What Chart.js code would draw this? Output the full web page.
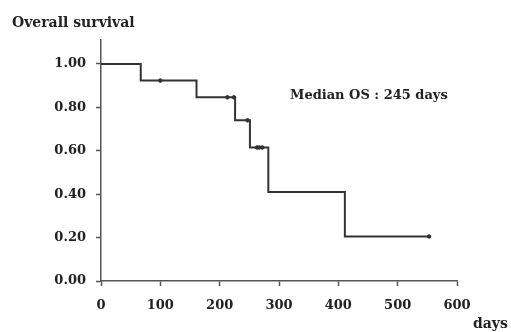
<!DOCTYPE html>
<html>
<head>
<meta charset="utf-8">
<script src="https://cdn.jsdelivr.net/npm/chart.js@4"></script>
<style>
html,body{margin:0;padding:0;background:#fff;}
#wrap{width:511px;height:332px;position:relative;}
</style>
</head>
<body>
<div id="wrap"><canvas id="c" width="511" height="332"></canvas></div>
<script>
// Kaplan-Meier step points (days, survival)
const stepDays = [0, 67, 161, 226, 251, 282, 411, 553];
const stepSurv = [1.00, 0.923, 0.846, 0.740, 0.615, 0.410, 0.205, 0.205];
// Censored observations
const censorDays = [100, 213, 224, 247, 263, 267, 272, 553];
const censorSurv = [0.923, 0.846, 0.846, 0.740, 0.615, 0.615, 0.615, 0.205];
// Tick labels
const yTickValues = [0, 0.2, 0.4, 0.6, 0.8, 1.0];
const yTickLabels = ['0.00', '0.20', '0.40', '0.60', '0.80', '1.00'];
const xTickValues = [0, 100, 200, 300, 400, 500, 600];
const yTitle = 'Overall survival';
const xTitle = 'days';
const annotation = 'Median OS : 245 days';

const FONT = '"DejaVu Serif", "Liberation Serif", serif';
const AXIS = '#555555';
const INK = '#333333';

const textPlugin = {
  id: 'texts',
  afterDraw(chart) {
    const ctx = chart.ctx;
    ctx.save();
    ctx.fillStyle = '#222';
    ctx.textBaseline = 'alphabetic';
    ctx.textAlign = 'left';
    ctx.font = 'bold 14px ' + FONT;
    ctx.fillText(yTitle, 12, 27);
    ctx.fillText(xTitle, 473, 328);
    ctx.font = 'bold 13px ' + FONT;
    ctx.fillText(annotation, 290, 99);
    ctx.restore();
  }
};

new Chart(document.getElementById('c'), {
  type: 'scatter',
  data: {
    datasets: [
      {
        data: stepDays.map((d, i) => ({x: d, y: stepSurv[i]})),
        showLine: true,
        stepped: 'before',
        borderColor: INK,
        borderWidth: 2,
        pointRadius: 0,
        fill: false
      },
      {
        data: censorDays.map((d, i) => ({x: d, y: censorSurv[i]})),
        showLine: false,
        pointStyle: 'circle',
        pointRadius: 1.8,
        backgroundColor: INK,
        borderColor: INK,
        borderWidth: 1
      }
    ]
  },
  options: {
    responsive: false,
    animation: false,
    devicePixelRatio: 1,
    layout: {padding: {left: 0, right: 54, top: 40, bottom: 0}},
    plugins: {legend: {display: false}, tooltip: {enabled: false}},
    scales: {
      x: {
        type: 'linear',
        min: 0, max: 600,
        afterFit(s) { s.height = 51; },
        afterBuildTicks(s) { s.ticks = xTickValues.map(v => ({value: v})); },
        grid: {drawOnChartArea: false, drawTicks: true, tickLength: 5, tickColor: AXIS, tickWidth: 1.5},
        border: {display: true, color: AXIS, width: 1.5},
        ticks: {color: '#222', font: {family: FONT, size: 13, weight: 'bold'}, padding: 12, maxRotation: 0,
                callback: v => String(v)}
      },
      y: {
        type: 'linear',
        min: 0, max: 1.11,
        afterFit(s) { s.width = 101; },
        afterBuildTicks(s) { s.ticks = yTickValues.map(v => ({value: v})); },
        grid: {drawOnChartArea: false, drawTicks: true, tickLength: 5, tickColor: AXIS, tickWidth: 1.5},
        border: {display: true, color: AXIS, width: 1.5},
        ticks: {color: '#222', font: {family: FONT, size: 13, weight: 'bold'}, padding: 10,
                callback: (v) => { const i = yTickValues.findIndex(t => Math.abs(t - v) < 1e-6); return i >= 0 ? yTickLabels[i] : ''; }}
      }
    }
  },
  plugins: [textPlugin]
});
</script>
</body>
</html>
